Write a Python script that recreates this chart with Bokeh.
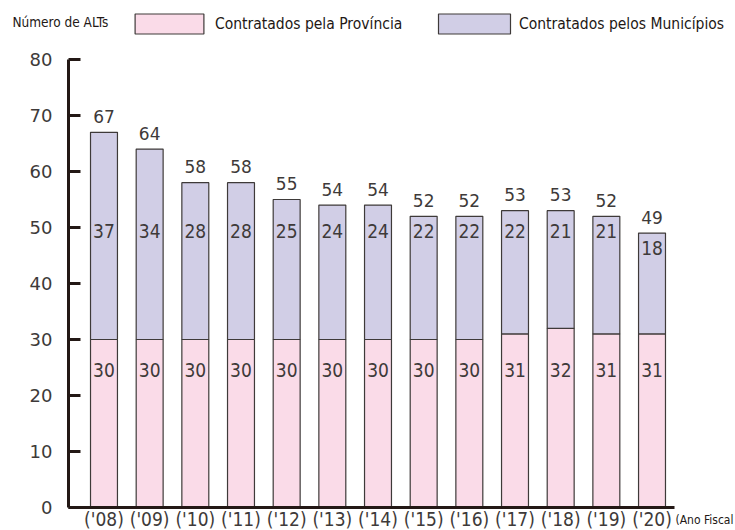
from bokeh.plotting import figure
from bokeh.models import (ColumnDataSource, Range1d, FixedTicker, Legend, LegendItem, Label)
from bokeh.core.properties import value
from bokeh.embed import file_html
from bokeh.resources import INLINE

years = ["08", "09", "10", "11", "12", "13", "14", "15", "16", "17", "18", "19", "20"]
provincia = [30, 30, 30, 30, 30, 30, 30, 30, 30, 31, 32, 31, 31]
municipios = [37, 34, 28, 28, 25, 24, 24, 22, 22, 22, 21, 21, 18]
y_ticks = [0, 10, 20, 30, 40, 50, 60, 70, 80]

idx = list(range(len(years)))
totals = [a + b for a, b in zip(provincia, municipios)]
muni_label_y = [min(49.3, t - 2.6) for t in totals]
prov_label_y = [24.6] * len(years)

src = ColumnDataSource(dict(
    x=idx, prov=provincia, muni=municipios, total=totals,
    zero=[0] * len(years),
    prov_txt=[str(v) for v in provincia],
    muni_txt=[str(v) for v in municipios],
    tot_txt=[str(v) for v in totals],
    muni_y=muni_label_y, prov_y=prov_label_y,
))

PINK = "#fadbe8"
PURPLE = "#d1cee6"
EDGE = "#3e3a39"
DARK = "#231815"
TXT = "#3e3a39"
COND = "DejaVu Sans Condensed"

X0, X1 = -2.266, 13.828
Y0, Y1 = -4.107, 90.536
AX_X = -0.777
AX_XEND = 12.49

p = figure(width=735, height=530, output_backend="svg", toolbar_location=None,
           x_range=Range1d(X0, X1), y_range=Range1d(Y0, Y1),
           min_border_left=0, min_border_right=0, min_border_top=0, min_border_bottom=0)
p.outline_line_color = None
p.grid.visible = False
p.background_fill_color = "white"

r_prov = p.vbar(x="x", bottom="zero", top="prov", width=0.59, source=src,
                fill_color=PINK, line_color=EDGE, line_width=1.2)
r_muni = p.vbar(x="x", bottom="prov", top="total", width=0.59, source=src,
                fill_color=PURPLE, line_color=EDGE, line_width=1.2)

p.text(x="x", y="total", text="tot_txt", source=src, text_align="center",
       text_baseline="alphabetic", y_offset=-16, text_font=value("DejaVu Sans"),
       text_font_size="17px", text_color=TXT)
p.text(x="x", y="muni_y", text="muni_txt", source=src, text_align="center",
       text_baseline="middle", text_font=value(COND),
       text_font_size="19px", text_color=TXT)
p.text(x="x", y="prov_y", text="prov_txt", source=src, text_align="center",
       text_baseline="middle", text_font=value(COND),
       text_font_size="19px", text_color=TXT)

# y axis
ya = p.yaxis[0]
ya.fixed_location = AX_X
ya.bounds = (0, 80)
ya.ticker = FixedTicker(ticks=y_ticks)
ya.axis_line_width = 3
ya.axis_line_color = DARK
ya.major_tick_line_width = 3
ya.major_tick_line_color = DARK
ya.major_tick_in = 12
ya.major_tick_out = 0
ya.minor_tick_line_color = None
ya.major_label_standoff = 16
ya.major_label_text_font = "DejaVu Sans"
ya.major_label_text_font_size = "18px"
ya.major_label_text_color = TXT

# x axis
xa = p.xaxis[0]
xa.fixed_location = 0
xa.bounds = (AX_X, AX_XEND)
xa.ticker = FixedTicker(ticks=idx)
xa.major_label_overrides = {i: "('%s)" % y for i, y in zip(idx, years)}
xa.axis_line_width = 3
xa.axis_line_color = DARK
xa.major_tick_line_color = None
xa.minor_tick_line_color = None
xa.major_tick_in = 0
xa.major_tick_out = 0
xa.major_label_standoff = 0
xa.major_label_text_font = COND
xa.major_label_text_font_size = "19px"
xa.major_label_text_color = TXT

# legends
leg1 = Legend(items=[LegendItem(label="Contratados pela Província", renderers=[r_prov])],
              location=(126, 494), orientation="horizontal", padding=0, margin=0,
              border_line_color=None, background_fill_alpha=0,
              glyph_width=86, glyph_height=25, label_standoff=3,
              label_text_font=COND, label_text_font_size="15.5px",
              label_text_color=DARK, label_height=25)
leg2 = Legend(items=[LegendItem(label="Contratados pelos Municípios", renderers=[r_muni])],
              location=(429, 494), orientation="horizontal", padding=0, margin=0,
              border_line_color=None, background_fill_alpha=0,
              glyph_width=90, glyph_height=25, label_standoff=0,
              label_text_font=COND, label_text_font_size="15.5px",
              label_text_color=DARK, label_height=25)
p.add_layout(leg1)
p.add_layout(leg2)

p.add_layout(Label(x=12, y=509, x_units="screen", y_units="screen",
                   text="Número de ALTs", text_baseline="middle",
                   text_font=COND, text_font_size="13.5px",
                   text_color=DARK))
p.add_layout(Label(x=675, y=11, x_units="screen", y_units="screen",
                   text="(Ano Fiscal", text_baseline="middle",
                   text_font=COND, text_font_size="12px",
                   text_color=DARK))

open("out.html", "w").write(file_html(p, INLINE))
